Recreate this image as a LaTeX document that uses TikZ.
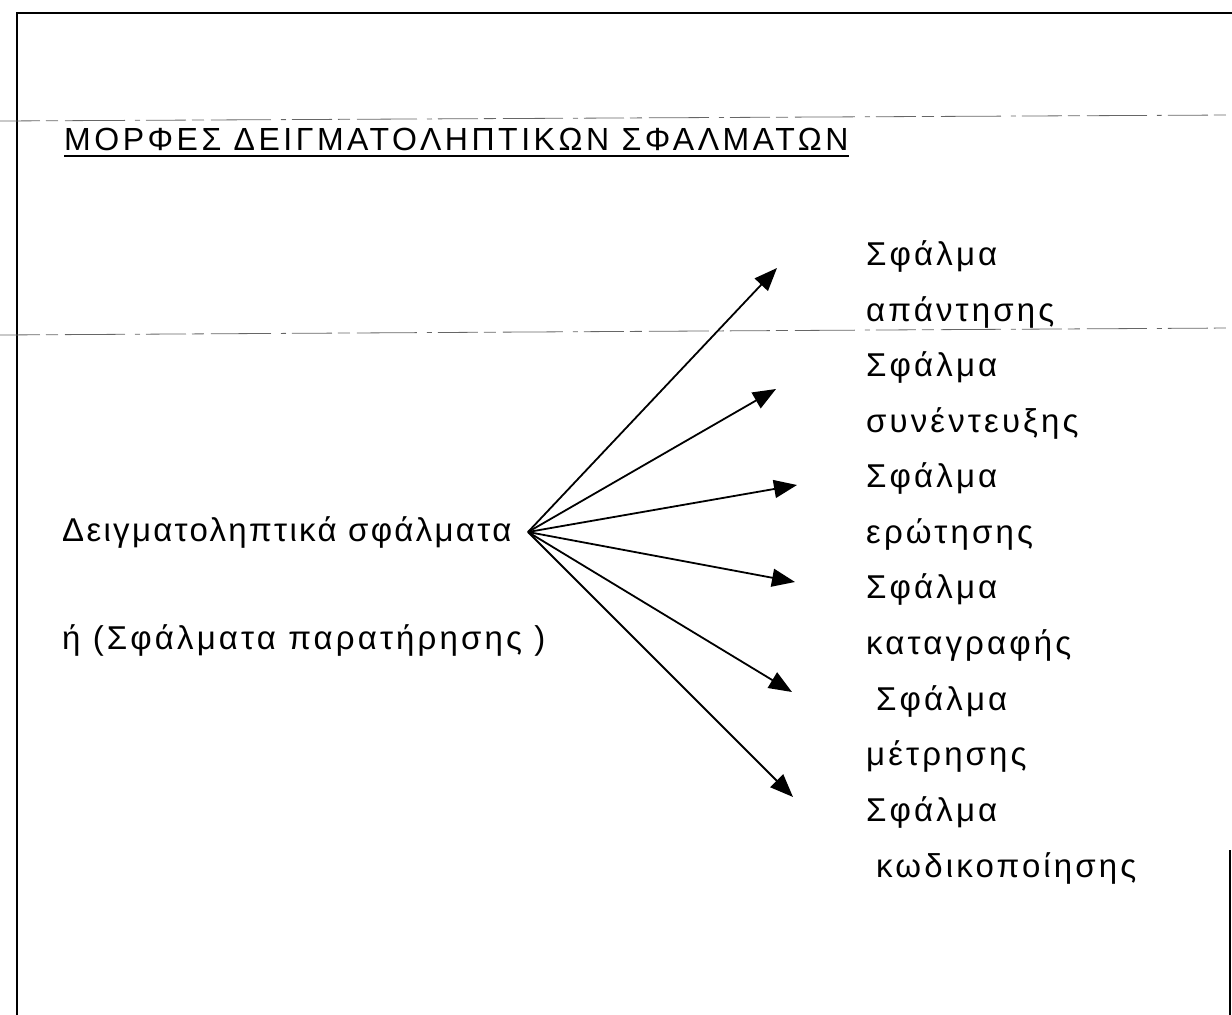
\documentclass[tikz,border=0pt]{standalone}
\usepackage{fontspec}
\setmainfont{Liberation Sans}
\newfontfamily\titlefont[LetterSpace=11]{Liberation Sans}
\newfontfamily\bodyfont[LetterSpace=9.5]{Liberation Sans}
\newfontfamily\bodyfontnarrow[LetterSpace=7]{Liberation Sans}
\usetikzlibrary{arrows.meta,calc}
\tikzset{
  frameline/.style={line width=2.6pt, black},
  scanline/.style={line width=0.8pt, black!60, dash pattern=on 40pt off 6pt on 12pt off 7pt on 60pt off 10pt on 5pt off 6pt},
  titletext/.style={anchor=base west, inner sep=0pt, font=\titlefont\fontsize{32}{36}\selectfont},
  bodytext/.style={anchor=base west, inner sep=0pt, font=\bodyfont\fontsize{33}{38}\selectfont},
  fanarrow/.style={line width=1.8pt, -{Triangle[length=23pt,width=18pt]}},
}
\begin{document}
\begin{tikzpicture}[x=1pt,y=-1pt]
\useasboundingbox (0,0) rectangle (1232,1015);
% frame
\draw[frameline] (17,1015) -- (17,13) -- (1232,13);
\draw[frameline] (1230,850) -- (1230,1015);
% faint scan lines
\draw[scanline] (0,121) -- (1232,115);
\draw[scanline] (0,335) -- (1232,328);
% title
\node[titletext] (title) at (64,150) {ΜΟΡΦΕΣ ΔΕΙΓΜΑΤΟΛΗΠΤΙΚΩΝ ΣΦΑΛΜΑΤΩΝ};
\draw[line width=1.6pt] ($(title.base west)+(0,6)$) -- ($(title.base east)+(0,6)$);
% left texts
\node[bodytext, font=\bodyfontnarrow\fontsize{33}{38}\selectfont] (src) at (62,541) {Δειγματοληπτικά σφάλματα};
\node[bodytext] (alt) at (62,649) {ή (Σφάλματα παρατήρησης )};
% right texts
\node[bodytext] (r1a) at (866,265) {Σφάλμα};
\node[bodytext] (r1b) at (866,321) {απάντησης};
\node[bodytext] (r2a) at (866,376) {Σφάλμα};
\node[bodytext] (r2b) at (866,432) {συνέντευξης};
\node[bodytext] (r3a) at (866,487) {Σφάλμα};
\node[bodytext] (r3b) at (866,543) {ερώτησης};
\node[bodytext] (r4a) at (866,598) {Σφάλμα};
\node[bodytext] (r4b) at (866,654) {καταγραφής};
\node[bodytext] (r5a) at (876,710) {Σφάλμα};
\node[bodytext] (r5b) at (866,765) {μέτρησης};
\node[bodytext] (r6a) at (866,821) {Σφάλμα};
\node[bodytext] (r6b) at (876,877) {κωδικοποίησης};
% arrows
\coordinate (o) at (528,532);
\coordinate (t1) at (777,268);
\coordinate (t2) at (776,389);
\coordinate (t3) at (797,485);
\coordinate (t4) at (795,582);
\coordinate (t5) at (792,692);
\coordinate (t6) at (793,797);
\foreach \t in {t1,t2,t3,t4,t5,t6} \draw[fanarrow] (o) -- (\t);
\end{tikzpicture}
\end{document}
